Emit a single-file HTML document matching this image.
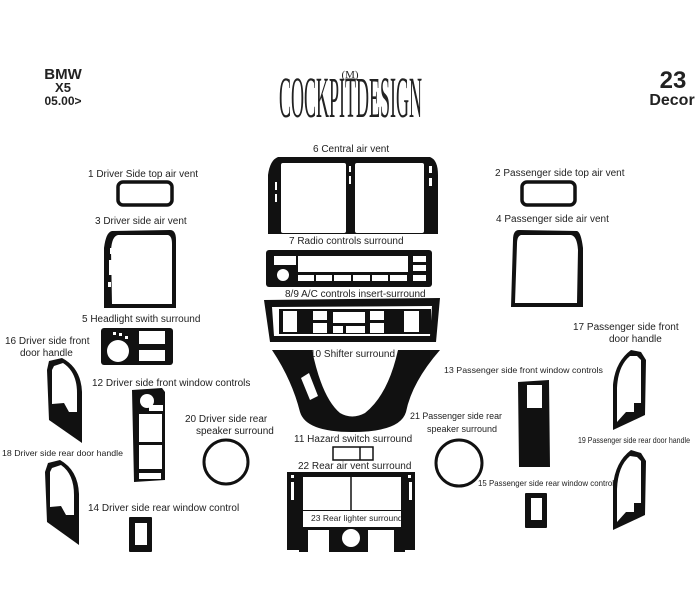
<!DOCTYPE html>
<html><head><meta charset="utf-8"><style>
html,body{margin:0;padding:0;background:#fff;}
svg{display:block;}
text{font-family:"Liberation Sans",Arial,sans-serif;fill:#222;}
.l{font-size:10px;}
.s{font-size:8.5px;}
.c{font-size:9px;}
.serif{font-family:"Liberation Serif",serif;}
</style></head><body>
<svg width="700" height="608" viewBox="0 0 700 608" xmlns="http://www.w3.org/2000/svg">
<rect width="700" height="608" fill="#fff"/>
<!-- header -->
<text x="63" y="79" font-size="15" font-weight="bold" text-anchor="middle" fill="#111">BMW</text>
<text x="63" y="92" font-size="13" font-weight="bold" text-anchor="middle" fill="#111">X5</text>
<text x="63" y="105" font-size="12" font-weight="bold" text-anchor="middle" fill="#111">05.00&gt;</text>
<text x="673" y="88" font-size="24" font-weight="bold" text-anchor="middle" fill="#111">23</text>
<text x="672" y="105" font-size="16" font-weight="bold" text-anchor="middle" fill="#111">Decor</text>
<g transform="translate(279,117) scale(1,2.9)">
<text class="serif" x="0" y="0" font-size="20" textLength="143" lengthAdjust="spacingAndGlyphs" fill="#111">COCKPITDESIGN</text>
</g>
<text class="serif" x="350" y="78" font-size="11" text-anchor="middle" fill="#111">(M)</text>

<!-- left labels -->
<text class="l" x="88" y="177">1  Driver Side top air vent</text>
<text class="l" x="95" y="224">3  Driver side air vent</text>
<text class="l" x="82" y="322">5  Headlight swith surround</text>
<text class="l" x="5" y="344">16  Driver side front</text>
<text class="l" x="20" y="356">door handle</text>
<text class="l" x="92" y="386">12 Driver side front window controls</text>
<text class="l" x="185" y="422">20 Driver side rear</text>
<text class="l" x="196" y="434">speaker surround</text>
<text class="s" x="2" y="456" textLength="121" lengthAdjust="spacingAndGlyphs">18  Driver side rear door handle</text>
<text class="l" x="88" y="511">14  Driver side rear window control</text>

<!-- center labels -->
<text class="l" x="313" y="152">6  Central air vent</text>
<text class="l" x="289" y="244">7  Radio controls surround</text>
<text class="l" x="285" y="297">8/9  A/C controls insert-surround</text>
<text class="l" x="310" y="357">10 Shifter surround</text>
<text class="l" x="294" y="442">11 Hazard switch surround</text>
<text class="l" x="298" y="469">22 Rear air vent surround</text>
<text class="s" x="311" y="521">23 Rear lighter surround</text>

<!-- right labels -->
<text class="l" x="495" y="176">2  Passenger side top air vent</text>
<text class="l" x="496" y="222">4  Passenger side air vent</text>
<text class="l" x="573" y="330">17  Passenger side front</text>
<text class="l" x="609" y="342">door handle</text>
<text class="s" x="444" y="373" textLength="159" lengthAdjust="spacingAndGlyphs">13  Passenger side front window controls</text>
<text class="c" x="410" y="419" textLength="92" lengthAdjust="spacingAndGlyphs">21 Passenger side rear</text>
<text class="c" x="427" y="432">speaker surround</text>
<text class="s" x="578" y="443" textLength="112" lengthAdjust="spacingAndGlyphs">19  Passenger side rear door handle</text>
<text class="s" x="478" y="486" textLength="136" lengthAdjust="spacingAndGlyphs">15 Passenger side rear window control</text>

<g fill="#111" stroke="none">
<!-- 1 & 2 -->
<rect x="118" y="182" width="54" height="23" rx="5" fill="none" stroke="#111" stroke-width="3.5"/>
<rect x="522" y="182" width="53" height="23" rx="5" fill="none" stroke="#111" stroke-width="3.5"/>
<!-- 3 -->
<path fill-rule="evenodd" d="M112,231 L170,230 Q176,230 176,240 L176,308 L104,308 L104,248 Q106,232 112,231 Z M118,235 L168,235 Q172,236 172,244 L172,304 L112,304 L111,250 Q112,236 118,235 Z"/>
<rect x="110" y="248" width="3" height="6" fill="#fff"/>
<rect x="109" y="260" width="4" height="15" fill="#fff"/>
<rect x="108" y="282" width="3" height="5" fill="#fff"/>
<!-- 4 -->
<path fill-rule="evenodd" d="M577,231 L519,230 Q513,230 513,240 L511,307 L583,307 L583,248 Q581,232 577,231 Z M571,235 L521,235 Q517,236 517,244 L515,303 L577,303 L578,250 Q577,236 571,235 Z"/>
<rect x="572" y="247" width="3" height="7" fill="#fff"/>
<rect x="572" y="258" width="4" height="15" fill="#fff"/>
<rect x="574" y="278" width="3" height="5" fill="#fff"/>
<!-- 5 -->
<rect x="101" y="328" width="72" height="37" rx="3"/>
<circle cx="118" cy="351" r="11" fill="#fff"/>
<rect x="139" y="331" width="26" height="13" fill="#fff"/>
<rect x="139" y="350" width="26" height="11" fill="#fff"/>
<rect x="113" y="332" width="3" height="3" fill="#fff"/>
<rect x="119" y="333" width="3" height="3" fill="#fff"/>
<rect x="125" y="336" width="3" height="3" fill="#fff"/>
<!-- 16 -->
<path fill-rule="evenodd" d="M49,361 L62,358 Q81,368 82,392 L82,443 L49,420 L47,370 Z M54,366 L63,363 Q77,372 77,393 L77,412 L69,412 L64,403 L52,404 L52,370 Z"/>
<!-- 18 -->
<path fill-rule="evenodd" d="M48,463 L60,460 Q78,470 79,494 L79,545 L47,522 L45,472 Z M52,468 L61,465 Q74,474 74,495 L74,515 L66,515 L61,506 L50,507 L50,472 Z"/>
<!-- 17 -->
<path fill-rule="evenodd" d="M641,352 L631,350 Q615,362 613,385 L613,430 L645,415 L646,360 Z M637,356 L630,356 Q618,366 617,388 L617,422 L626,412 L634,412 L634,403 L641,403 L641,360 Z"/>
<!-- 19 -->
<path fill-rule="evenodd" d="M641,453 L631,450 Q615,462 613,486 L613,530 L645,515 L646,461 Z M637,457 L630,456 Q618,466 617,489 L617,522 L626,512 L634,512 L634,503 L641,503 L641,461 Z"/>
<!-- 12 -->
<path fill-rule="evenodd" d="M132,390 L162,388 L165,392 L165,480 L134,482 Z M139,414 L162,414 L162,442 L139,442 Z M139,445 L162,445 L162,469 L139,469 Z M139,473 L161,473 L161,479 L139,479 Z M149,405 L163,405 L163,411 L149,411 Z"/>
<circle cx="147" cy="401" r="7" fill="#fff"/>
<!-- 14 -->
<rect x="129" y="517" width="23" height="35" rx="1"/>
<rect x="135" y="523" width="12" height="22" fill="#fff"/>
<!-- 13 -->
<path fill-rule="evenodd" d="M518,382 L549,380 L550,467 L519,467 Z M527,385 L542,385 L542,408 L527,408 Z"/>
<!-- 15 -->
<rect x="525" y="493" width="22" height="35" rx="1"/>
<rect x="531" y="498" width="11" height="22" fill="#fff"/>
<!-- 20 21 -->
<circle cx="226" cy="462" r="22" fill="none" stroke="#111" stroke-width="3"/>
<circle cx="459" cy="463" r="23" fill="none" stroke="#111" stroke-width="3"/>

<!-- 6 -->
<path d="M278,157 L430,157 Q438,160 438,175 L438,234 L268,234 L268,175 Q270,160 278,157 Z"/>
<rect x="281" y="163" width="65" height="70" rx="2" fill="#fff"/>
<rect x="355" y="163" width="69" height="70" rx="2" fill="#fff"/>
<rect x="275" y="182" width="2" height="8" fill="#fff"/>
<rect x="275" y="194" width="2" height="8" fill="#fff"/>
<rect x="349" y="166" width="2" height="6" fill="#fff"/>
<rect x="349" y="176" width="2" height="8" fill="#fff"/>
<rect x="429" y="166" width="3" height="7" fill="#fff"/>
<rect x="429" y="178" width="3" height="8" fill="#fff"/>
<!-- 7 -->
<rect x="266" y="250" width="166" height="37" rx="3"/>
<rect x="274" y="256" width="22" height="9" fill="#fff"/>
<circle cx="283" cy="275" r="6" fill="#fff"/>
<rect x="298" y="256" width="110" height="16" fill="#fff"/>
<rect x="298" y="275" width="16" height="6" fill="#fff"/>
<rect x="316" y="275" width="16" height="6" fill="#fff"/>
<rect x="334" y="275" width="17" height="6" fill="#fff"/>
<rect x="353" y="275" width="17" height="6" fill="#fff"/>
<rect x="372" y="275" width="16" height="6" fill="#fff"/>
<rect x="390" y="275" width="17" height="6" fill="#fff"/>
<rect x="413" y="256" width="13" height="6" fill="#fff"/>
<rect x="413" y="265" width="13" height="6" fill="#fff"/>
<rect x="413" y="275" width="13" height="6" fill="#fff"/>
<!-- 8/9 -->
<path fill-rule="evenodd" d="M264,300 L440,298 L436,342 L270,342 Z M272,307 L432,306 L430,336 L274,336 Z"/>
<rect x="279" y="309" width="152" height="25"/>
<rect x="283" y="311" width="14" height="21" fill="#fff"/>
<rect x="313" y="311" width="14" height="9" fill="#fff"/>
<rect x="313" y="323" width="14" height="10" fill="#fff"/>
<rect x="333" y="312" width="32" height="11" fill="#fff"/>
<rect x="333" y="326" width="10" height="7" fill="#fff"/>
<rect x="346" y="326" width="19" height="7" fill="#fff"/>
<rect x="370" y="311" width="14" height="9" fill="#fff"/>
<rect x="370" y="323" width="14" height="10" fill="#fff"/>
<rect x="404" y="311" width="15" height="21" fill="#fff"/>
<!-- 10 -->
<path fill-rule="evenodd" d="M272,350 L312,350 Q322,398 340,413 Q352,420 365,413 Q388,395 398,350 L440,350 Q412,382 406,412 Q400,432 352,432 Q306,432 300,412 Q292,380 272,350 Z M301,378 L309,373 L318,396 L310,400 Z"/>
<!-- 11 -->
<rect x="333" y="447" width="40" height="13" fill="none" stroke="#111" stroke-width="1.5"/>
<line x1="360" y1="447" x2="360" y2="460" stroke="#111" stroke-width="1.5"/>
<!-- 22 -->
<path fill-rule="evenodd" d="M287,472 L415,472 L415,550 L405,550 L405,552 L299,552 L299,550 L287,550 Z M303,477 L401,477 L401,510 L303,510 Z M303,511 L401,511 L401,527 L303,527 Z"/>
<line x1="351" y1="477" x2="351" y2="510" stroke="#111" stroke-width="1.5"/>
<rect x="291" y="475" width="3" height="3" fill="#fff"/>
<rect x="408" y="475" width="3" height="3" fill="#fff"/>
<rect x="291" y="482" width="3" height="18" fill="#fff"/>
<rect x="409" y="482" width="3" height="18" fill="#fff"/>
<rect x="308" y="530" width="21" height="22" fill="#fff"/>
<circle cx="351" cy="538" r="9" fill="#fff"/>
<rect x="368" y="530" width="26" height="22" fill="#fff"/>
</g>
</svg>
</body></html>
